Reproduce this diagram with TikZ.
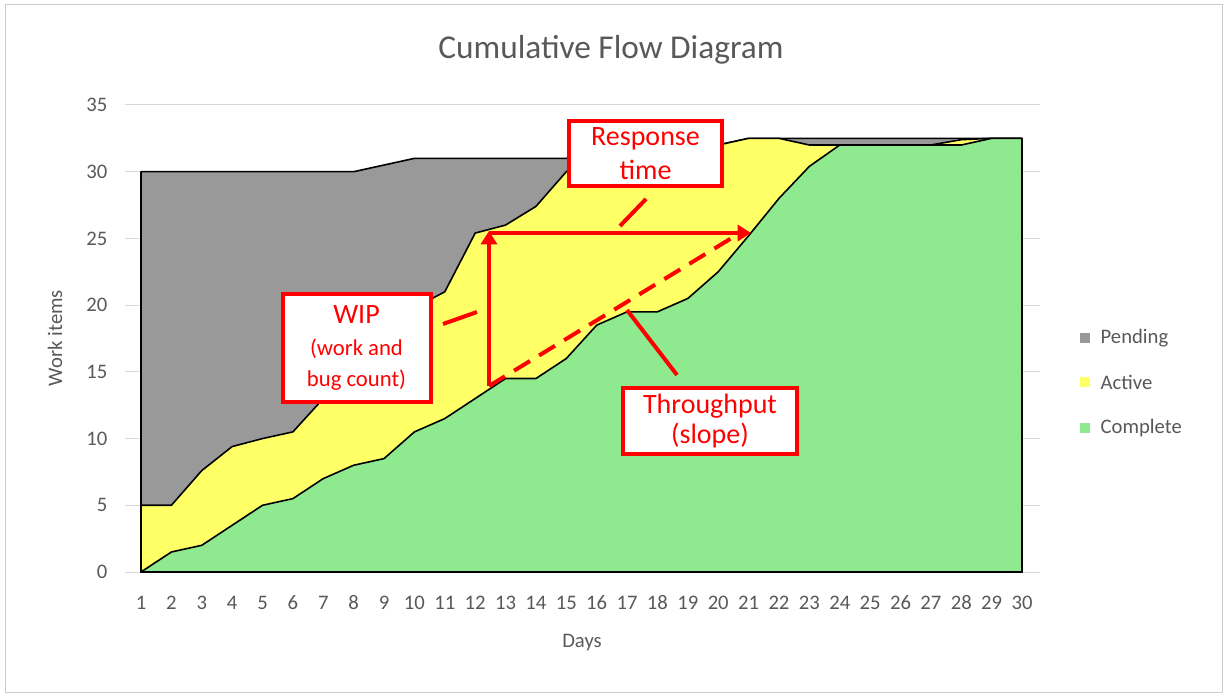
\documentclass[tikz,border=0pt]{standalone}
\usepackage{fontspec}
\setmainfont{Carlito}
\usetikzlibrary{arrows.meta}
\begin{document}
\begin{tikzpicture}[x=0.75pt,y=-0.75pt,
  axtext/.style={text=axgrey,font=\fontsize{15.5}{17}\selectfont},
  redbox/.style={draw=red,line width=3pt,fill=white,text=red,align=center,font=\fontsize{21}{23}\selectfont,inner sep=0pt},
  redline/.style={draw=red,line width=3pt},
  series/.style={draw=black,line width=1.2pt,line join=round}]
\definecolor{axgrey}{HTML}{595959}
\definecolor{pend}{HTML}{999999}
\definecolor{act}{HTML}{FFFF66}
\definecolor{comp}{HTML}{8FEA8F}
\useasboundingbox (0,0) rectangle (1228,698);
\fill[white] (0,0) rectangle (1228,698);
\draw[color=black!20,line width=0.75pt] (5,5) rectangle (1222,692);
% grid
\foreach \v in {0,5,...,35} {
  \draw[black!15,line width=0.75pt] (125,{572-\v*13.343}) -- (1040,{572-\v*13.343});
  \node[axtext,anchor=east] (yl\v) at (112,{572-\v*13.343}) {\v};
}
\foreach \d in {1,...,30} {
  \node[axtext] (xl\d) at ({141+(\d-1)*30.38},603) {\d};
}
\node[axtext] (days) at (582,643) {Days};
\node[axtext,rotate=90] (wi) at (55,338) {Work items};
\node[text=axgrey,font=\fontsize{25}{28}\selectfont] (title) at (611,50) {Cumulative Flow Diagram};
% data
\begin{scope}[xshift=105.75pt,yshift=-429pt,x={(22.785pt,0)},y={(0,10.0075pt)}]
\path[series,fill=pend] (0,0) -- (0,30) -- (1,30) -- (2,30) -- (3,30) -- (4,30) -- (5,30) -- (6,30) -- (7,30) -- (8,30.5) -- (9,31) -- (10,31) -- (11,31) -- (12,31) -- (13,31) -- (14,31) -- (15,31.5) -- (16,31.5) -- (17,32) -- (18,32) -- (19,32) -- (20,32.5) -- (21,32.5) -- (22,32.5) -- (23,32.5) -- (24,32.5) -- (25,32.5) -- (26,32.5) -- (27,32.5) -- (28,32.5) -- (29,32.5) -- (29,0) -- cycle;
\path[series,fill=act] (0,0) -- (0,5) -- (1,5) -- (2,7.6) -- (3,9.4) -- (4,10) -- (5,10.5) -- (6,13) -- (7,15.5) -- (8,18) -- (9,19.8) -- (10,21) -- (11,25.4) -- (12,26) -- (13,27.4) -- (14,30) -- (15,31.5) -- (16,31.5) -- (17,32) -- (18,32) -- (19,32) -- (20,32.5) -- (21,32.5) -- (22,32) -- (23,32) -- (24,32) -- (25,32) -- (26,32) -- (27,32.4) -- (28,32.5) -- (29,32.5) -- (29,0) -- cycle;
\path[series,fill=comp] (0,0) -- (1,1.5) -- (2,2) -- (3,3.5) -- (4,5) -- (5,5.5) -- (6,7) -- (7,8) -- (8,8.5) -- (9,10.5) -- (10,11.5) -- (11,13) -- (12,14.5) -- (13,14.5) -- (14,16) -- (15,18.5) -- (16,19.5) -- (17,19.5) -- (18,20.5) -- (19,22.5) -- (20,25.2) -- (21,28) -- (22,30.4) -- (23,32) -- (24,32) -- (25,32) -- (26,32) -- (27,32) -- (28,32.5) -- (29,32.5) -- (29,0) -- cycle;
\end{scope}
% legend
\foreach \n/\c/\y in {Pending/pend/338,Active/act/382,Complete/comp/428} {
  \fill[\c] (1080,{\y-5}) rectangle (1090,{\y+5});
  \node[axtext,anchor=west] (lg\n) at (1096,\y) {\n};
}
% annotations
\coordinate (vbot) at (489,386);
\coordinate (vtop) at (489,231);
\coordinate (hend) at (751,233);
\coordinate (dend) at (735,236);
\draw[redline,-{Triangle[width=12pt,length=10pt]}] (vbot) -- (vtop);
\draw[redline,-{Triangle[width=12pt,length=10pt]}] (489,233) -- (hend);
\draw[redline,dash pattern=on 14pt off 8pt] (vbot) -- (dend);
\node[redbox,minimum width=115pt,minimum height=49pt] (resp) at (645.5,153.5) {Response\\[2pt]time};
\node[redbox,minimum width=111pt,minimum height=81pt] (wip) at (356.5,348) {WIP\\[1pt]{\fontsize{17}{19}\selectfont(work and}\\{\fontsize{17}{19}\selectfont bug count)}};
\node[redbox,minimum width=131pt,minimum height=50pt] (thr) at (710,421) {Throughput\\(slope)};
\coordinate (wp1) at (443,324); \coordinate (wp2) at (477,312);
\coordinate (rp1) at (620,226); \coordinate (rp2) at (646,199);
\coordinate (tp1) at (627,310); \coordinate (tp2) at (677,375);
\draw[redline] (wp1) -- (wp2);
\draw[redline] (rp1) -- (rp2);
\draw[redline] (tp1) -- (tp2);
\end{tikzpicture}
\end{document}
